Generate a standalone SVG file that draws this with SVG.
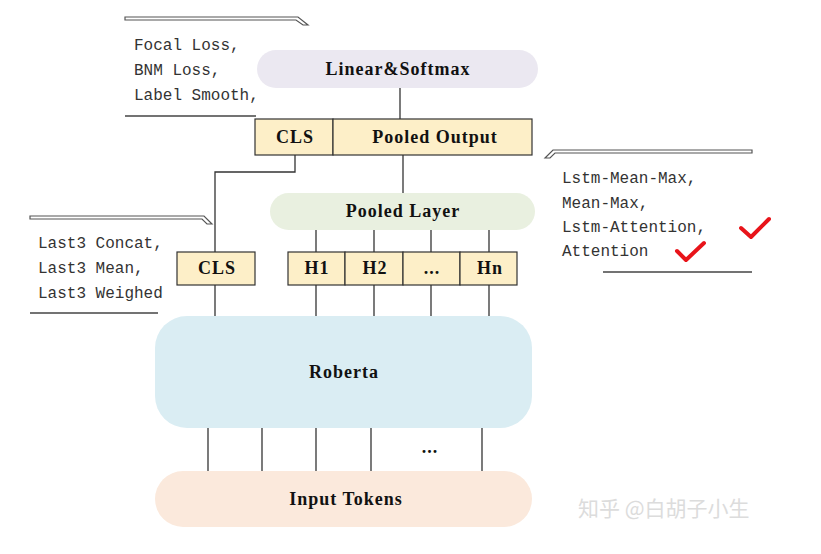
<svg xmlns="http://www.w3.org/2000/svg" width="821" height="554" viewBox="0 0 821 554">
<style>
.lbl{font-family:"Liberation Serif",serif;font-weight:bold;font-size:18px;letter-spacing:1px;fill:#111;text-anchor:middle;dominant-baseline:central}
.ann{font-family:"Liberation Mono",monospace;font-size:16px;fill:#333}
.cell{fill:#fdefc8;stroke:#333;stroke-width:1.2}
.ln{stroke:#333;stroke-width:1.3;fill:none}
.strip{fill:#fff;stroke:#555;stroke-width:1.2}
.ul{stroke:#444;stroke-width:1.5}
.chk{fill:none;stroke:#e8141a;stroke-width:4;stroke-linecap:round;stroke-linejoin:round}
</style>
<rect width="821" height="554" fill="#fff"/>
<g id="connectors">
<line class="ln" x1="400" y1="88" x2="400" y2="119"/>
<polyline class="ln" points="295,155 295,172 215,172 215,252"/>
<line class="ln" x1="215" y1="285" x2="215" y2="316"/>
<line class="ln" x1="403" y1="155" x2="403" y2="193"/>
<line class="ln" x1="316" y1="230" x2="316" y2="252"/>
<line class="ln" x1="374" y1="230" x2="374" y2="252"/>
<line class="ln" x1="431" y1="230" x2="431" y2="252"/>
<line class="ln" x1="489" y1="230" x2="489" y2="252"/>
<line class="ln" x1="316" y1="285" x2="316" y2="316"/>
<line class="ln" x1="374" y1="285" x2="374" y2="316"/>
<line class="ln" x1="431" y1="285" x2="431" y2="316"/>
<line class="ln" x1="489" y1="285" x2="489" y2="316"/>
<line class="ln" x1="208" y1="428" x2="208" y2="471"/>
<line class="ln" x1="262" y1="428" x2="262" y2="471"/>
<line class="ln" x1="316" y1="428" x2="316" y2="471"/>
<line class="ln" x1="371" y1="428" x2="371" y2="471"/>
<line class="ln" x1="482" y1="428" x2="482" y2="471"/>
<text class="lbl" x="430" y="447">...</text>
</g>
<g id="linear">
<rect x="257" y="50" width="281" height="38" rx="19" fill="#ebe8f1"/>
<text class="lbl" x="398" y="69">Linear&amp;Softmax</text>
</g>
<g id="output">
<rect class="cell" x="255" y="119" width="78" height="36"/>
<rect class="cell" x="333" y="119" width="199" height="36"/>
<text class="lbl" x="295" y="137">CLS</text>
<text class="lbl" x="435" y="137">Pooled Output</text>
</g>
<g id="pooled">
<rect x="270" y="193" width="265" height="37" rx="18.5" fill="#e9f0e0"/>
<text class="lbl" x="403" y="211">Pooled Layer</text>
</g>
<g id="cls">
<rect class="cell" x="177" y="252" width="78" height="33"/>
<text class="lbl" x="217" y="268">CLS</text>
</g>
<g id="hidden">
<rect class="cell" x="288" y="252" width="57" height="33"/>
<rect class="cell" x="345" y="252" width="58" height="33"/>
<rect class="cell" x="403" y="252" width="57" height="33"/>
<rect class="cell" x="460" y="252" width="57" height="33"/>
<text class="lbl" x="317" y="268">H1</text>
<text class="lbl" x="375" y="268">H2</text>
<text class="lbl" x="432" y="268">...</text>
<text class="lbl" x="490" y="268">Hn</text>
</g>
<g id="roberta">
<rect x="155" y="316" width="377" height="112" rx="32" fill="#daedf3"/>
<text class="lbl" x="344" y="372">Roberta</text>
</g>
<g id="input">
<rect x="155" y="471" width="377" height="56" rx="28" fill="#fbe9dc"/>
<text class="lbl" x="346" y="499">Input Tokens</text>
</g>
<g id="note-loss">
<polygon class="strip" points="125,17 298,17 308,25 303,25 296,20 125,20"/>
<text class="ann" x="134" y="50">Focal Loss,</text>
<text class="ann" x="134" y="75">BNM Loss,</text>
<text class="ann" x="134" y="100">Label Smooth,</text>
<line class="ul" x1="125" y1="116" x2="256" y2="116"/>
</g>
<g id="note-pool">
<polygon class="strip" points="752,150 553,150 545,158 550,158 555,153 752,153"/>
<text class="ann" x="562" y="183">Lstm-Mean-Max,</text>
<text class="ann" x="562" y="208">Mean-Max,</text>
<text class="ann" x="562" y="232">Lstm-Attention,</text>
<text class="ann" x="562" y="256">Attention</text>
<line class="ul" x1="603" y1="272" x2="752" y2="272"/>
<polyline class="chk" points="741,228 751,237 769,219"/>
<polyline class="chk" points="677,251 686,260 704,243"/>
</g>
<g id="note-cls">
<polygon class="strip" points="30,216 204,216 212,224 207,224 202,219 30,219"/>
<text class="ann" x="38" y="248">Last3 Concat,</text>
<text class="ann" x="38" y="273">Last3 Mean,</text>
<text class="ann" x="38" y="298">Last3 Weighed</text>
<line class="ul" x1="30" y1="313" x2="158" y2="313"/>
</g>
<text x="578" y="516" font-family="Noto Sans CJK SC, sans-serif" font-size="21" fill="#dcdcdc">知乎 @白胡子小生</text>
</svg>
